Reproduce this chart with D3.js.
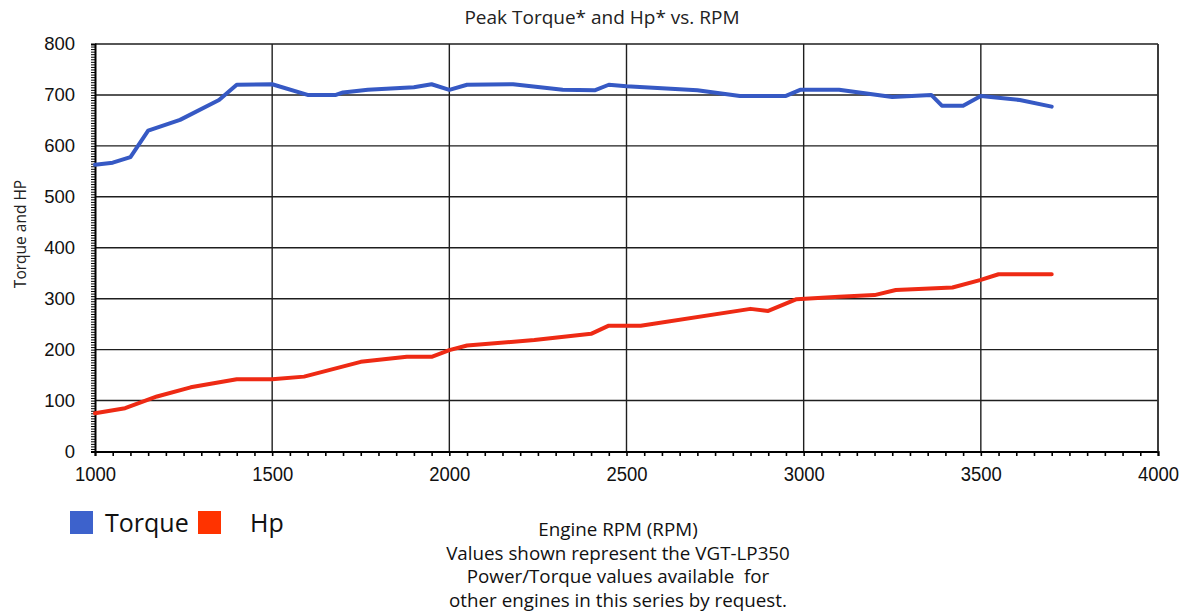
<!DOCTYPE html>
<html>
<head>
<meta charset="utf-8">
<script src="https://cdn.jsdelivr.net/npm/d3@7/dist/d3.min.js"></script>
<style>
  html, body { margin: 0; padding: 0; background: #fff; }
  svg { display: block; }
</style>
</head>
<body>
<svg id="chart" width="1180" height="615"></svg>
<script>
// ---- Data ----
const torqueRpm    = [1000, 1050, 1100, 1150, 1240, 1350, 1400, 1500, 1600, 1680, 1700, 1770, 1900, 1950, 2000, 2050, 2180, 2320, 2410, 2450, 2500, 2700, 2820, 2950, 2990, 3100, 3250, 3360, 3390, 3450, 3500, 3610, 3700];
const torqueValues = [563, 567, 578, 630, 651, 690, 720, 721, 700, 700, 705, 710, 715, 721, 710, 720, 721, 710, 709, 720, 717, 709, 698, 698, 710, 710, 696, 700, 679, 679, 698, 690, 677];
const hpRpm        = [1000, 1085, 1175, 1270, 1400, 1500, 1590, 1750, 1880, 1950, 2000, 2050, 2240, 2400, 2450, 2540, 2850, 2900, 2980, 3100, 3200, 3260, 3420, 3500, 3550, 3700];
const hpValues     = [75, 85, 108, 126, 142, 142, 147, 176, 186, 186, 199, 208, 219, 231, 247, 247, 280, 276, 299, 304, 307, 317, 322, 337, 348, 348];
const xTicks = [1000, 1500, 2000, 2500, 3000, 3500, 4000];
const yTicks = [0, 100, 200, 300, 400, 500, 600, 700, 800];
const seriesNames = ["Torque", "Hp"];
const titleText = "Peak Torque* and Hp* vs. RPM";
const yTitle = "Torque and HP";
const footerLines = ["Engine RPM (RPM)", "Values shown represent the VGT-LP350", "Power/Torque values available  for", "other engines in this series by request."];

// ---- Layout ----
const svg = d3.select("#chart");
const pLeft = 95, pRight = 1158, pTop = 44, pBottom = 451.5;
const x = d3.scaleLinear().domain([1000, 4000]).range([pLeft, pRight]);
const y = d3.scaleLinear().domain([0, 800]).range([pBottom, pTop]);

const blue = "#3659c4", red = "#ee2a14";
const gridColor = "#1e1e1e";
const sansUI = "'Open Sans', 'Noto Sans', sans-serif";

// Grid
const g = svg.append("g");
g.selectAll("line.h").data(yTicks.filter(d => d > 0)).join("line")
  .attr("x1", pLeft).attr("x2", pRight)
  .attr("y1", d => y(d)).attr("y2", d => y(d))
  .attr("stroke", gridColor).attr("stroke-width", 1.4);
g.selectAll("line.v").data(xTicks.filter(d => d > 1000)).join("line")
  .attr("x1", d => x(d)).attr("x2", d => x(d))
  .attr("y1", pTop).attr("y2", pBottom)
  .attr("stroke", gridColor).attr("stroke-width", 1.4);

// X axis with minor ticks
const xMinor = d3.range(1000, 4001, 50);
const xAxisG = svg.append("g").attr("transform", `translate(0,${pBottom})`)
  .call(d3.axisBottom(x).tickValues(xMinor).tickSize(4.5).tickFormat(""));
xAxisG.select(".domain").attr("stroke", "#000").attr("stroke-width", 2);
xAxisG.selectAll(".tick line").attr("stroke", "#000").attr("stroke-width", 1.6);

const xLabelG = svg.append("g").attr("transform", `translate(0,${pBottom})`)
  .call(d3.axisBottom(x).tickValues(xTicks).tickSize(0).tickPadding(15).tickFormat(d3.format("d")));
xLabelG.select(".domain").remove();
xLabelG.selectAll("text")
  .attr("font-family", "'Liberation Sans', Arial, sans-serif")
  .attr("font-size", 21).attr("fill", "#111")
  .attr("transform", "scale(0.88,1)");

// Y axis with minor ticks
const yMinor = d3.range(0, 801, 5);
const yAxisG = svg.append("g").attr("transform", `translate(${pLeft},0)`)
  .call(d3.axisLeft(y).tickValues(yMinor).tickSize(4).tickFormat(""));
yAxisG.select(".domain").attr("stroke", "#000").attr("stroke-width", 2);
yAxisG.selectAll(".tick line").attr("stroke", "#000").attr("stroke-width", 1);

const yLabelG = svg.append("g").attr("transform", `translate(${pLeft},0)`)
  .call(d3.axisLeft(y).tickValues(yTicks).tickSize(0).tickPadding(20).tickFormat(d3.format("d")));
yLabelG.select(".domain").remove();
yLabelG.selectAll("text")
  .attr("font-family", "'Liberation Sans', Arial, sans-serif")
  .attr("font-size", 18.5).attr("fill", "#111");

// Right border
svg.append("line").attr("x1", pRight).attr("x2", pRight).attr("y1", pTop).attr("y2", pBottom)
  .attr("stroke", "#333").attr("stroke-width", 1.6);

// Lines
const line = d3.line().x(d => x(d[0])).y(d => y(d[1]));
svg.append("path").datum(torqueRpm.map((r, i) => [r, torqueValues[i]]))
  .attr("d", line).attr("fill", "none").attr("stroke", blue)
  .attr("stroke-width", 4).attr("stroke-linejoin", "round").attr("stroke-linecap", "round");
svg.append("path").datum(hpRpm.map((r, i) => [r, hpValues[i]]))
  .attr("d", line).attr("fill", "none").attr("stroke", red)
  .attr("stroke-width", 4).attr("stroke-linejoin", "round").attr("stroke-linecap", "round");

// Title
svg.append("text").attr("x", 602).attr("y", 24).attr("text-anchor", "middle")
  .attr("font-family", sansUI).attr("font-size", 19).attr("fill", "#222").text(titleText);

// Y title
svg.append("text").attr("transform", "translate(26,234) rotate(-90)").attr("text-anchor", "middle")
  .attr("font-family", sansUI).attr("font-size", 15.5).attr("fill", "#222").text(yTitle);

// Legend
const legend = [
  { name: seriesNames[0], color: "#3d62cc", sx: 70, tx: 105 },
  { name: seriesNames[1], color: "#ff3300", sx: 198, tx: 250 }
];
legend.forEach(l => {
  svg.append("rect").attr("x", l.sx).attr("y", 511).attr("width", 23).attr("height", 23).attr("fill", l.color);
  svg.append("text").attr("x", l.tx).attr("y", 532)
    .attr("font-family", sansUI).attr("font-size", 25).attr("fill", "#111").text(l.name);
});

// Footer
footerLines.forEach((t, i) => {
  svg.append("text").attr("x", 618).attr("y", 536 + i * 23.5).attr("text-anchor", "middle")
    .attr("font-family", sansUI).attr("font-size", 18.8).attr("fill", "#111")
    .style("white-space", "pre").text(t);
});
</script>
</body>
</html>
